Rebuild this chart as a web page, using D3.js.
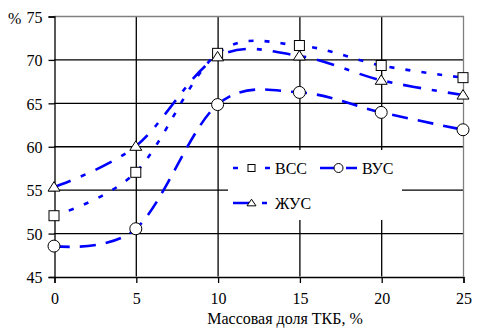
<!DOCTYPE html>
<html>
<head>
<meta charset="utf-8">
<script src="https://cdn.jsdelivr.net/npm/d3@7"></script>
</head>
<body style="margin:0;background:#fff">
<svg id="chart" width="478" height="329" style="display:block"></svg>
<script>
// data
const xValues = [0, 5, 10, 15, 20, 25];
const vss = [52.0, 57.0, 70.7, 71.6, 69.3, 67.9];
const vus = [48.5, 50.5, 64.8, 66.2, 63.9, 61.9];
const zhus = [55.3, 60.0, 70.3, 70.4, 67.6, 65.9];
const xTicks = [0, 5, 10, 15, 20, 25];
const yTicks = [45, 50, 55, 60, 65, 70, 75];

const series = [
  { name: 'ВСС', values: vss, marker: 'square', dash: '5,11' },
  { name: 'ВУС', values: vus, marker: 'circle', dash: '16,10' },
  { name: 'ЖУС', values: zhus, marker: 'triangle', dash: '18,11,5,11' },
];

const BLUE = '#0000FF';
const svg = d3.select('#chart');

const x = d3.scaleLinear().domain([0, 25]).range([54, 463]);
const y = d3.scaleLinear().domain([45, 75]).range([276.5, 16]);

// grid
const grid = svg.append('g');
grid.selectAll('.hg').data(yTicks.slice(1, -1)).join('line')
  .attr('x1', x(0)).attr('x2', x(25))
  .attr('y1', d => y(d) + 0.5).attr('y2', d => y(d) + 0.5)
  .attr('stroke', '#000').attr('stroke-width', 1.3);
grid.selectAll('.vg').data(xTicks.slice(1, -1)).join('line')
  .attr('y1', y(75)).attr('y2', y(45))
  .attr('x1', d => x(d) + 0.5).attr('x2', d => x(d) + 0.5)
  .attr('stroke', '#000').attr('stroke-width', 1.3);

// frame: top + right grey
svg.append('path')
  .attr('d', `M${x(0)},${y(75) + 0.5}H${x(25) + 0.5}V${y(45)}`)
  .attr('fill', 'none').attr('stroke', '#808080').attr('stroke-width', 1.3);

// axes
const yAxis = svg.append('g').attr('transform', `translate(${x(0) + 0.5},0.5)`)
  .call(d3.axisLeft(y).tickValues(yTicks).tickSize(6).tickPadding(6));
const xAxis = svg.append('g').attr('transform', `translate(0.5,${y(45) + 0.5})`)
  .call(d3.axisBottom(x).tickValues(xTicks).tickSize(6).tickPadding(10));
[yAxis, xAxis].forEach(a => {
  a.select('.domain').attr('stroke', '#000').attr('stroke-width', 1.3);
  a.selectAll('.tick line').attr('stroke', '#000').attr('stroke-width', 1.3);
});
yAxis.selectAll('text').attr('dy', '0.36em');

svg.append('text').attr('x', 8).attr('y', 24).text('%');
svg.append('text').attr('x', 285).attr('y', 324).attr('text-anchor', 'middle')
  .text('Массовая доля ТКБ, %');

// lines
const line = d3.line()
  .x((d, i) => x(xValues[i]))
  .y(d => y(d))
  .curve(d3.curveCardinal.tension(0));

function drawMarker(g, type, cx, cy, s) {
  if (type === 'square') {
    g.append('rect').attr('x', cx - s / 2).attr('y', cy - s / 2)
      .attr('width', s).attr('height', s);
  } else if (type === 'circle') {
    g.append('circle').attr('cx', cx).attr('cy', cy).attr('r', s / 2 + 1);
  } else {
    const h = s * 0.9;
    g.append('path')
      .attr('d', `M${cx},${cy - h * 0.6}L${cx + s / 2 + 1},${cy + h * 0.45}L${cx - s / 2 - 1},${cy + h * 0.45}Z`);
  }
}

series.forEach(s => {
  svg.append('path').datum(s.values)
    .attr('d', line)
    .attr('fill', 'none').attr('stroke', BLUE).attr('stroke-width', 2.6)
    .attr('stroke-dasharray', s.dash);
});
series.forEach(s => {
  const g = svg.append('g').attr('fill', '#fff').attr('stroke', '#000').attr('stroke-width', 1);
  s.values.forEach((v, i) => drawMarker(g, s.marker, x(xValues[i]), y(v), 10));
});

// legend
const leg = svg.append('g');
leg.append('rect').attr('x', 228).attr('y', 150).attr('width', 174).attr('height', 70).attr('fill', '#fff');
const legPos = [[233, 168], [320, 168], [233, 203]];
series.forEach((s, i) => {
  const [lx, ly] = legPos[i];
  leg.append('line').attr('x1', lx).attr('x2', lx + 37).attr('y1', ly).attr('y2', ly)
    .attr('stroke', BLUE).attr('stroke-width', 2.6).attr('stroke-dasharray', s.dash);
  const g = leg.append('g').attr('fill', '#fff').attr('stroke', '#000').attr('stroke-width', 1);
  drawMarker(g, s.marker, lx + 18.5, ly, 7);
  leg.append('text').attr('x', lx + 42).attr('y', ly + 6).text(s.name);
});

// serif on every text node itself
svg.selectAll('text').each(function() {
  this.setAttribute('font-family', 'Liberation Serif');
  this.setAttribute('font-size', '16');
  this.setAttribute('fill', '#000');
});
</script>
</body>
</html>
